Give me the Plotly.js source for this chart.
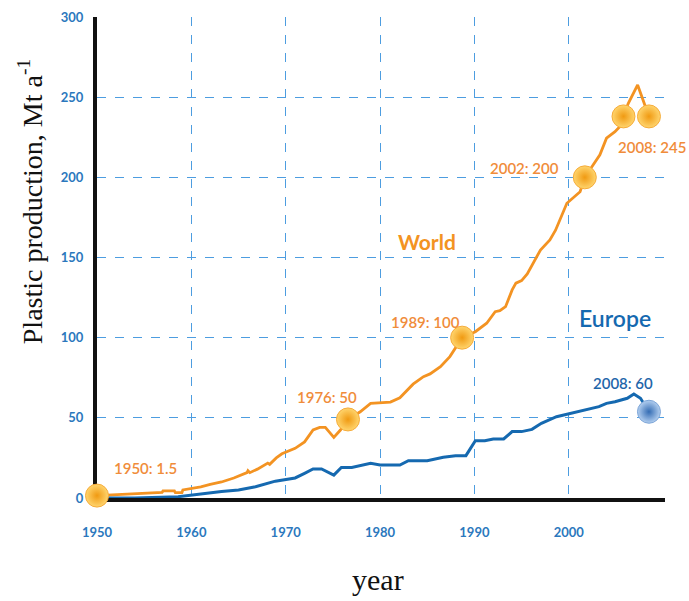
<!DOCTYPE html>
<html>
<head>
<meta charset="utf-8">
<script src="https://cdn.plot.ly/plotly-3.0.1.min.js"></script>
<style>html,body{margin:0;padding:0;background:#fff;}#chart{width:689px;height:601px;}</style>
</head>
<body>
<div id="chart"></div>
<script>
// World plastic production (Mt/a)
const worldYears = [1950,1951.9,1953.3,1955,1956.9,1957,1958.2,1958.3,1959,1959.1,1960,1961,1962,1963.2,1964.5,1965.9,1966,1966.2,1967,1968.1,1968.3,1969,1969.6,1971,1972,1972.9,1973.6,1974.2,1975.1,1975.8,1976.6,1977.9,1979,1981.1,1982.1,1982.7,1983.5,1984.6,1985.3,1986.4,1987.4,1988.7,1990.1,1991.3,1992.2,1992.7,1993.3,1994,1994.4,1995,1995.6,1997,1998,1998.6,1999.8,2001.2,2001.7,2003.3,2004,2004.9,2005.4,2005.8,2006.3,2007.3,2008.5];
const worldValues = [1.5,2,2.5,3,3.5,4.4,4.4,3.3,3.3,5,5.8,7,8.5,10,12.5,15.8,17,15.8,18,21.8,21,25,27.6,31,35,42.4,44,44,37.8,42.4,49,53.8,59,59.8,62.5,66,71,75.7,77.4,81.9,88.2,100,103.7,109,116.2,116.8,119.3,129.8,134,135.6,139.7,154.7,161,167,183.8,191,200,214,224.4,228.5,231.6,237.9,246,257.6,238];

// Europe plastic production (Mt/a)
const europeYears = [1950,1954,1958.6,1960,1961.5,1963.2,1965,1966.8,1968.9,1971,1972,1972.9,1973.8,1975.1,1975.9,1977,1979,1980,1982.1,1983,1985,1986.7,1988,1989.1,1990.1,1991.1,1992,1993.1,1994,1995,1996.1,1997.1,1998.7,2000.2,2001,2002.3,2003.2,2004,2004.9,2006.2,2006.9,2007.6,2008.5];
const europeValues = [0,0,0.8,1.9,2.9,4,5,7,10.5,12.5,15.4,18.1,18.1,14.3,19.1,19.1,21.6,20.6,20.6,23.3,23.3,25.4,26.4,26.4,35.7,35.7,36.8,36.8,41.4,41.4,42.8,46.6,50.7,52.8,53.8,56,57,59,60,62.2,64.9,62.2,53.8];

// Milestone spheres
const worldMarkYears = [1950,1976.6,1988.7,2001.7,2005.8,2008.5];
const worldMarkValues = [1.5,49,100,200,238,238];
const europeMarkYears = [2008.5];
const europeMarkValues = [53.8];

// Labels
const worldLabels = ["1950: 1.5","1976: 50","1989: 100","2002: 200","2008: 245"];
const worldLabelX = [1955.1,1974.4,1984.8,1995.3,2008.8];
const worldLabelY = [18.5,63,110,206,219];
const europeLabel = "2008: 60";
const europeLabelX = 2005.7, europeLabelY = 72;
const tickYears = [1950,1960,1970,1980,1990,2000];
const tickValues = [0,50,100,150,200,250,300];

const ORANGE = '#f39322', BLUE = '#1569b0';
const LBL_O = '#f08c3a', LBL_B = '#1f66aa', TICK = '#2b78bd';
const GRID = '#4d9de0';

const traces = [
  {x: worldYears, y: worldValues, type:'scatter', mode:'lines', line:{color:ORANGE, width:2.8}, hoverinfo:'skip'},
  {x: europeYears, y: europeValues, type:'scatter', mode:'lines', line:{color:BLUE, width:3}, hoverinfo:'skip'},
  {x: worldMarkYears, y: worldMarkValues, type:'scatter', mode:'markers', cliponaxis:false,
   marker:{size:23, color:'#ffd56e', gradient:{type:'radial', color:'#f09a12'}, line:{color:'#f6ac3a', width:1}}, hoverinfo:'skip'},
  {x: europeMarkYears, y: europeMarkValues, type:'scatter', mode:'markers', cliponaxis:false,
   marker:{size:23, color:'#b3cff0', gradient:{type:'radial', color:'#356db4'}, line:{color:'#7ea6d8', width:1}}, hoverinfo:'skip'}
];

const annotations = worldLabels.map((t,i)=>({
  x: worldLabelX[i], y: worldLabelY[i], xref:'x', yref:'y', text:t, showarrow:false,
  xanchor:'center', yanchor:'middle',
  font:{family:'Lato, sans-serif', size:15, color:LBL_O, weight:600}
}));
annotations.push({x: europeLabelX, y: europeLabelY, xref:'x', yref:'y', text:europeLabel, showarrow:false,
  xanchor:'center', yanchor:'middle',
  font:{family:'Lato, sans-serif', size:15, color:LBL_B, weight:600}});
annotations.push({x:1985, y:160, xref:'x', yref:'y', text:'World', showarrow:false,
  xanchor:'center', yanchor:'middle',
  font:{family:'Lato, sans-serif', size:21, color:ORANGE, weight:700}});
annotations.push({x:2004.9, y:112, xref:'x', yref:'y', text:'Europe', showarrow:false,
  xanchor:'center', yanchor:'middle',
  font:{family:'Lato, sans-serif', size:23, color:BLUE, weight:600}});
annotations.push({x:-0.118, y:0.617, xref:'paper', yref:'paper', text:'Plastic production, Mt a<sup>-1</sup>',
  xanchor:'center', yanchor:'middle',
  textangle:-90, showarrow:false, font:{family:'Liberation Serif, serif', size:28, color:'#111'}});
annotations.push({x:0.495, y:-0.17, xref:'paper', yref:'paper', text:'year', showarrow:false,
  xanchor:'center', yanchor:'middle',
  font:{family:'Liberation Serif, serif', size:30, color:'#111'}});

const layout = {
  width:689, height:601,
  margin:{l:97, r:24, t:17, b:103},
  paper_bgcolor:'#fff', plot_bgcolor:'#fff',
  showlegend:false,
  xaxis:{range:[1950,2010.2], tickvals:tickYears, ticktext:tickYears.map(String),
    showgrid:true, gridcolor:GRID, griddash:'dash', gridwidth:1,
    showline:true, linecolor:'#111', linewidth:4, zeroline:false, ticks:'', layer:'below traces',
    ticklabelstandoff:19, tickfont:{family:'Lato, sans-serif', size:13, color:TICK, weight:700}},
  yaxis:{range:[0,300], tickvals:tickValues, ticktext:tickValues.map(String),
    showgrid:true, gridcolor:GRID, griddash:'dash', gridwidth:1,
    showline:true, linecolor:'#111', linewidth:4, zeroline:false, ticks:'', layer:'below traces',
    ticklabelstandoff:7, tickfont:{family:'Lato, sans-serif', size:13, color:TICK, weight:700}},
  annotations: annotations
};

Plotly.newPlot('chart', traces, layout, {displayModeBar:false, staticPlot:true});
</script>
</body>
</html>
